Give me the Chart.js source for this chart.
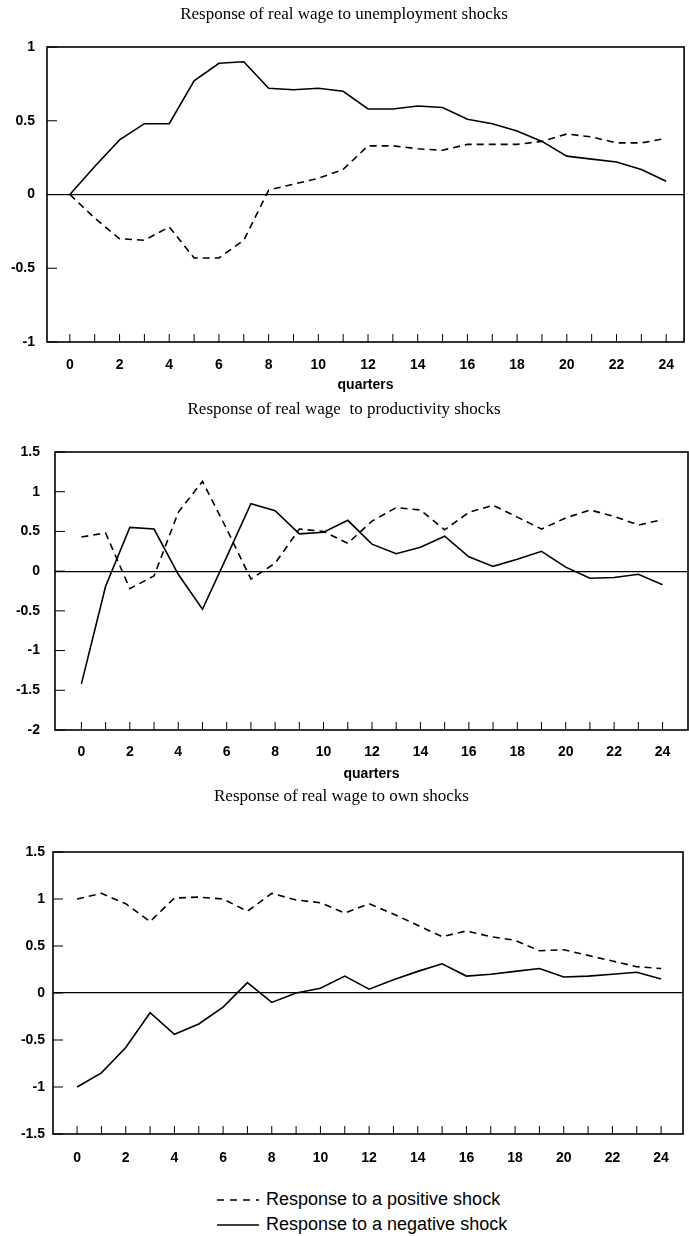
<!DOCTYPE html>
<html>
<head>
<meta charset="utf-8">
<script src="https://cdn.jsdelivr.net/npm/chart.js@4.4.0/dist/chart.umd.min.js"></script>
<style>
  body { margin: 0; background: #fff; width: 689px; height: 1236px; position: relative; overflow: hidden; }
  .panel { position: absolute; left: 0; width: 689px; }
  .legend { position: absolute; left: 217px; font: 18px "Liberation Sans", Arial, sans-serif; color: #000; }
  .legend div { height: 25px; line-height: 25px; white-space: nowrap; }
  .legend svg { vertical-align: middle; margin-right: 7px; }
</style>
</head>
<body>
<div class="panel" style="top:0;height:400px"><canvas id="c1"></canvas></div>
<div class="panel" style="top:395px;height:390px"><canvas id="c2"></canvas></div>
<div class="panel" style="top:785px;height:395px"><canvas id="c3"></canvas></div>
<div class="legend" style="top:1187px">
  <div><svg width="42" height="4"><line x1="0" y1="2" x2="42" y2="2" stroke="#000" stroke-width="1.6" stroke-dasharray="7,6"/></svg>Response to a positive shock</div>
  <div><svg width="42" height="4"><line x1="0" y1="2" x2="42" y2="2" stroke="#000" stroke-width="1.6"/></svg>Response to a negative shock</div>
</div>
<script>
const quarters = [0,1,2,3,4,5,6,7,8,9,10,11,12,13,14,15,16,17,18,19,20,21,22,23,24];

// response of real wage to unemployment shocks
const unempPositive = [0,-0.16,-0.30,-0.31,-0.22,-0.43,-0.43,-0.31,0.03,0.07,0.11,0.17,0.33,0.33,0.31,0.30,0.34,0.34,0.34,0.36,0.41,0.39,0.35,0.35,0.38];
const unempNegative = [0,0.19,0.37,0.48,0.48,0.77,0.89,0.90,0.72,0.71,0.72,0.70,0.58,0.58,0.60,0.59,0.51,0.48,0.43,0.36,0.26,0.24,0.22,0.17,0.09];

// response of real wage to productivity shocks
const prodPositive = [0.43,0.48,-0.22,-0.06,0.74,1.13,0.53,-0.10,0.10,0.53,0.50,0.35,0.63,0.80,0.77,0.52,0.74,0.83,0.68,0.53,0.67,0.77,0.69,0.58,0.65];
const prodNegative = [-1.42,-0.19,0.55,0.53,-0.04,-0.48,0.18,0.85,0.76,0.47,0.49,0.64,0.34,0.22,0.30,0.44,0.18,0.06,0.15,0.25,0.05,-0.09,-0.08,-0.04,-0.17];

// response of real wage to own shocks
const ownPositive = [1.00,1.06,0.95,0.76,1.01,1.02,1.00,0.87,1.06,0.99,0.96,0.85,0.95,0.84,0.72,0.60,0.66,0.60,0.56,0.45,0.46,0.40,0.34,0.28,0.26];
const ownNegative = [-1.00,-0.85,-0.58,-0.21,-0.44,-0.33,-0.15,0.11,-0.10,0.00,0.05,0.18,0.04,0.14,0.23,0.31,0.18,0.20,0.23,0.26,0.17,0.18,0.20,0.22,0.15];

const titles = [
  'Response of real wage to unemployment shocks',
  'Response of real wage  to productivity shocks',
  'Response of real wage to own shocks'
];
const xTitle = 'quarters';
const legendLabels = ['Response to a positive shock', 'Response to a negative shock'];

const sans = '"Liberation Sans", Arial, sans-serif';
const serif = '"Liberation Serif", "Times New Roman", serif';

// box around the plot plus short inward tick marks
const framePlugin = {
  id: 'frame',
  afterDraw(chart) {
    const {ctx, chartArea: a, scales: {x, y}} = chart;
    ctx.save();
    ctx.strokeStyle = '#000';
    ctx.lineWidth = 1;
    ctx.beginPath();
    quarters.forEach(q => {
      const px = x.getPixelForValue(q);
      ctx.moveTo(px, a.bottom);
      ctx.lineTo(px, a.bottom - 8);
    });
    y.ticks.forEach(t => {
      const py = y.getPixelForValue(t.value);
      ctx.moveTo(a.left, py);
      ctx.lineTo(a.left + 10, py);
    });
    ctx.stroke();
    ctx.lineWidth = 1.6;
    ctx.strokeRect(a.left, a.top, a.right - a.left, a.bottom - a.top);
    ctx.restore();
  }
};

function makePanel(id, p) {
  const toPoints = vals => quarters.map((q, i) => ({x: q, y: vals[i]}));
  return new Chart(document.getElementById(id), {
    type: 'line',
    data: {
      datasets: [
        {label: legendLabels[0], data: toPoints(p.positive), borderColor: '#000', borderWidth: 1.6, borderDash: [7, 5], pointRadius: 0, tension: 0},
        {label: legendLabels[1], data: toPoints(p.negative), borderColor: '#000', borderWidth: 1.6, pointRadius: 0, tension: 0}
      ]
    },
    options: {
      responsive: true,
      maintainAspectRatio: false,
      animation: false,
      layout: {padding: {left: 0, right: p.padRight, top: 0, bottom: 0}},
      plugins: {
        legend: {display: false},
        tooltip: {enabled: false},
        title: {
          display: true,
          text: p.title,
          color: '#000',
          font: {family: serif, size: 17, weight: 'normal', lineHeight: 1.2},
          padding: {top: p.titleTop, bottom: p.titleBottom}
        }
      },
      scales: {
        x: {
          type: 'linear',
          min: p.xMin,
          max: p.xMax,
          afterFit: s => { s.height = p.xHeight; },
          grid: {display: false, drawTicks: false},
          border: {display: false},
          ticks: {stepSize: 2, includeBounds: false, color: '#000', padding: p.xLabelPad, maxRotation: 0,
                  font: {family: sans, size: 14, weight: 'bold'}},
          title: {display: p.showXTitle, text: xTitle, color: '#000',
                  font: {family: sans, size: 14, weight: 'bold'}, padding: {top: 0, bottom: p.xTitlePad}}
        },
        y: {
          min: p.yMin,
          max: p.yMax,
          afterFit: s => { s.width = p.yWidth; },
          grid: {drawTicks: false, lineWidth: 1.2,
                 color: c => (c.tick && c.tick.value === 0) ? '#000' : 'rgba(0,0,0,0)'},
          border: {display: false},
          ticks: {stepSize: 0.5, color: '#000', padding: p.yLabelPad,
                  callback: v => String(Math.round(v * 10) / 10),
                  font: {family: sans, size: 14, weight: 'bold'}}
        }
      }
    },
    plugins: [framePlugin]
  });
}

makePanel('c1', {
  title: titles[0], positive: unempPositive, negative: unempNegative,
  yMin: -1, yMax: 1, xMin: -0.92, xMax: 24.72,
  titleTop: 4, titleBottom: 22.6, yWidth: 47, yLabelPad: 12, padRight: 1,
  xHeight: 58, xLabelPad: 15, showXTitle: true, xTitlePad: 6
});
makePanel('c2', {
  title: titles[1], positive: prodPositive, negative: prodNegative,
  yMin: -2, yMax: 1.5, xMin: -1.09, xMax: 25.05,
  titleTop: 4, titleBottom: 32.6, yWidth: 55, yLabelPad: 15, padRight: 1,
  xHeight: 55, xLabelPad: 14, showXTitle: true, xTitlePad: 2
});
makePanel('c3', {
  title: titles[2], positive: ownPositive, negative: ownNegative,
  yMin: -1.5, yMax: 1.5, xMin: -0.99, xMax: 24.9,
  titleTop: 1, titleBottom: 45.6, yWidth: 53, yLabelPad: 8, padRight: 6,
  xHeight: 46, xLabelPad: 16, showXTitle: false, xTitlePad: 0
});
</script>
</body>
</html>
